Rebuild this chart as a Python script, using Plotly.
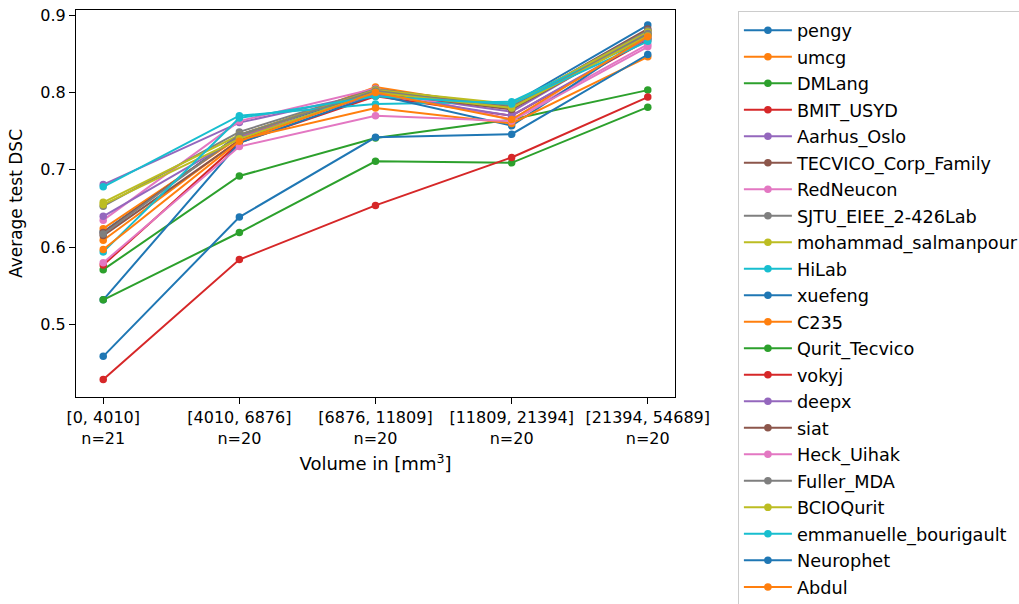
import plotly.graph_objects as go

categories = ["[0, 4010]<br>n=21", "[4010, 6876]<br>n=20", "[6876, 11809]<br>n=20",
              "[11809, 21394]<br>n=20", "[21394, 54689]<br>n=20"]

teams = ["pengy", "umcg", "DMLang", "BMIT_USYD", "Aarhus_Oslo", "TECVICO_Corp_Family",
         "RedNeucon", "SJTU_EIEE_2-426Lab", "mohammad_salmanpour", "HiLab", "xuefeng",
         "C235", "Qurit_Tecvico", "vokyj", "deepx", "siat", "Heck_Uihak", "Fuller_MDA",
         "BCIOQurit", "emmanuelle_bourigault", "Neurophet", "Abdul"]

pengy = [0.620, 0.745, 0.800, 0.785, 0.887]
umcg = [0.624, 0.742, 0.807, 0.779, 0.880]
DMLang = [0.571, 0.692, 0.741, 0.765, 0.803]
BMIT_USYD = [0.577, 0.735, 0.795, 0.770, 0.868]
Aarhus_Oslo = [0.681, 0.761, 0.800, 0.775, 0.878]
TECVICO_Corp_Family = [0.619, 0.745, 0.804, 0.782, 0.882]
RedNeucon = [0.635, 0.763, 0.805, 0.765, 0.862]
SJTU_EIEE = [0.653, 0.749, 0.804, 0.783, 0.880]
mohammad_salmanpour = [0.658, 0.745, 0.803, 0.785, 0.878]
HiLab = [0.678, 0.770, 0.785, 0.788, 0.870]
xuefeng = [0.532, 0.735, 0.797, 0.757, 0.874]
C235 = [0.609, 0.739, 0.780, 0.760, 0.846]
Qurit_Tecvico = [0.532, 0.619, 0.711, 0.709, 0.781]
vokyj = [0.429, 0.584, 0.654, 0.716, 0.794]
deepx = [0.640, 0.742, 0.798, 0.770, 0.870]
siat = [0.615, 0.738, 0.800, 0.778, 0.875]
Heck_Uihak = [0.580, 0.730, 0.770, 0.763, 0.859]
Fuller_MDA = [0.617, 0.745, 0.802, 0.780, 0.876]
BCIOQurit = [0.655, 0.740, 0.800, 0.780, 0.873]
emmanuelle_bourigault = [0.594, 0.767, 0.795, 0.785, 0.866]
Neurophet = [0.459, 0.639, 0.742, 0.746, 0.849]
Abdul = [0.597, 0.737, 0.800, 0.765, 0.872]

series = [pengy, umcg, DMLang, BMIT_USYD, Aarhus_Oslo, TECVICO_Corp_Family, RedNeucon,
          SJTU_EIEE, mohammad_salmanpour, HiLab, xuefeng, C235, Qurit_Tecvico, vokyj,
          deepx, siat, Heck_Uihak, Fuller_MDA, BCIOQurit, emmanuelle_bourigault,
          Neurophet, Abdul]

palette = ["#1f77b4", "#ff7f0e", "#2ca02c", "#d62728", "#9467bd",
           "#8c564b", "#e377c2", "#7f7f7f", "#bcbd22", "#17becf"]

fig = go.Figure()
for i, (name, vals) in enumerate(zip(teams, series)):
    c = palette[i % 10]
    fig.add_trace(go.Scatter(
        x=categories, y=vals, name=name, mode="lines+markers", legendgroup=name,
        line=dict(color=c, width=2), marker=dict(color=c, size=7.5),
    ))

axis_common = dict(showline=True, linecolor="black", linewidth=1, mirror=True,
                   ticks="outside", ticklen=6, tickcolor="black", showgrid=False,
                   zeroline=False)

fig.update_layout(
    width=1019, height=604,
    margin=dict(l=76, r=344, t=10, b=207, autoexpand=False),
    paper_bgcolor="white", plot_bgcolor="white",
    font=dict(family="DejaVu Sans", size=16, color="black"),
    xaxis=dict(**axis_common, type="category", range=[-0.2, 4.2],
               tickfont=dict(size=16),
               title=dict(text="Volume in [mm<sup>3</sup>]", font=dict(size=18), standoff=10)),
    yaxis=dict(**axis_common, range=[0.4065, 0.9065], dtick=0.1, tickformat=".1f",
               tickfont=dict(size=16),
               title=dict(text="Average test DSC", font=dict(size=17), standoff=13)),
    legend=dict(x=1.105, y=0.997, xanchor="left", yanchor="top",
                bordercolor="#cccccc", borderwidth=1, font=dict(size=17.7),
                tracegroupgap=0.5, itemwidth=48, maxheight=1000),
    showlegend=True,
)

fig.write_html("out.html")
